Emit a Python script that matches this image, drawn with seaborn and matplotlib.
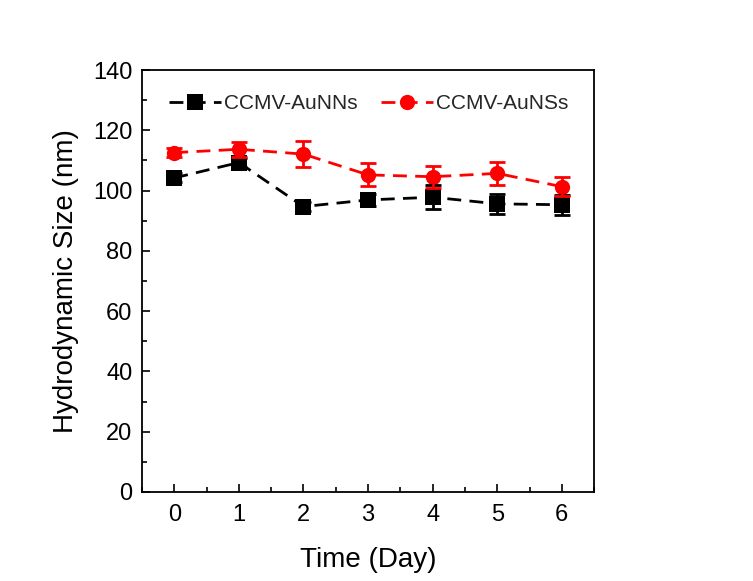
import matplotlib
matplotlib.use("Agg")
import matplotlib.pyplot as plt
import seaborn as sns
import pandas as pd
from matplotlib.ticker import MultipleLocator

days = [0, 1, 2, 3, 4, 5, 6]
aunns = [104.2, 109.3, 94.7, 96.9, 97.8, 95.6, 95.3]
aunns_err = [1.5, 1.5, 1.5, 2.0, 3.9, 3.4, 3.3]
aunss = [112.6, 113.7, 112.1, 105.2, 104.6, 105.7, 101.3]
aunss_err = [1.5, 2.5, 4.4, 3.8, 3.6, 3.7, 3.1]
labels = ["CCMV-AuNNs", "CCMV-AuNSs"]

sns.set_theme(style="ticks")
plt.rcParams['font.family'] = ['Liberation Sans', 'DejaVu Sans']

df = pd.DataFrame({
    "Day": days * 2,
    "Size": aunns + aunss,
    "Sample": [labels[0]] * len(days) + [labels[1]] * len(days),
})

fig = plt.figure(figsize=(7.53, 5.81), dpi=100)
ax = fig.add_axes([0.1886, 0.1532, 0.6004, 0.7263])

colors = {labels[0]: "black", labels[1]: "#ff0000"}
sns.lineplot(data=df, x="Day", y="Size", hue="Sample", style="Sample",
             palette=colors, markers={labels[0]: "s", labels[1]: "o"},
             dashes={labels[0]: (5, 3), labels[1]: (5, 3)},
             linewidth=2, markersize=11, markeredgewidth=0, ax=ax)
ax.errorbar(days, aunns, yerr=aunns_err, fmt="none", ecolor="black",
            elinewidth=2, capsize=6, capthick=2)
ax.errorbar(days, aunss, yerr=aunss_err, fmt="none", ecolor="#ff0000",
            elinewidth=2, capsize=6, capthick=2)

ax.set_xlim(-0.5, 6.5)
ax.set_ylim(0, 140)
ax.xaxis.set_major_locator(MultipleLocator(1))
ax.xaxis.set_minor_locator(MultipleLocator(0.5))
ax.yaxis.set_major_locator(MultipleLocator(20))
ax.yaxis.set_minor_locator(MultipleLocator(10))
ax.tick_params(which="both", direction="in", top=False, right=False,
               labelsize=17, width=1.2, color="black", labelcolor="black")
ax.tick_params(axis="x", which="major", length=6, pad=9)
ax.tick_params(axis="y", which="major", length=6, pad=7)
ax.tick_params(which="minor", length=3.5)
for s in ax.spines.values():
    s.set_linewidth(1.3)
    s.set_color("black")

ax.set_xlabel("Time (Day)", fontsize=20, labelpad=15, color="black")
ax.set_ylabel("Hydrodynamic Size (nm)", fontsize=20, labelpad=10, color="black")

leg = ax.legend(loc="upper left", ncol=2, frameon=False, fontsize=15,
                handlelength=2.5, columnspacing=1.1, handletextpad=0.15,
                bbox_to_anchor=(0.0, 1.007), borderaxespad=0.9)

fig.savefig("out.png", dpi=100)
